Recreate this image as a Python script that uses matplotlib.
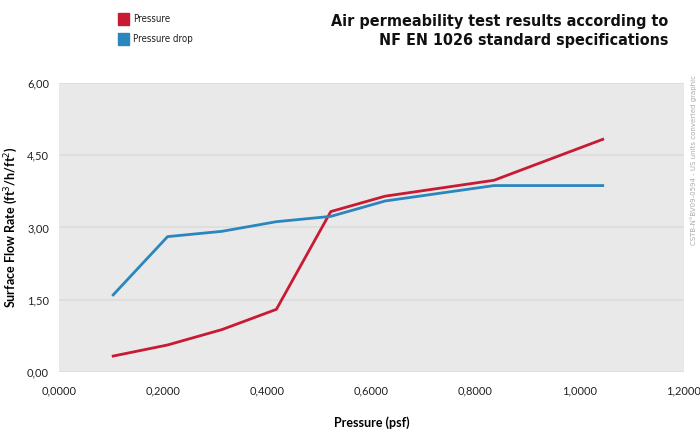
import matplotlib.pyplot as plt
from matplotlib.patches import Rectangle

# pressure in psf (5..50 Pa converted)
pressure = [0.1044, 0.2088, 0.3133, 0.4177, 0.5221, 0.6265, 0.8354, 1.0442]
flow_pressure = [0.33, 0.56, 0.88, 1.30, 3.33, 3.65, 3.98, 4.83]
flow_drop = [1.60, 2.81, 2.92, 3.12, 3.23, 3.55, 3.87, 3.87]

x_ticks = [0.0, 0.2, 0.4, 0.6, 0.8, 1.0, 1.2]
y_ticks = [0.0, 1.5, 3.0, 4.5, 6.0]

red = '#c81a32'
blue = '#2b86bd'
label_font = ['Lato', 'DejaVu Sans']
title_font = ['DejaVu Sans']

fig = plt.figure(figsize=(7, 4.3), dpi=100)
ax = fig.add_axes([0.084, 0.135, 0.893, 0.672])
ax.set_facecolor('#e9e9e9')

ax.plot(pressure, flow_pressure, color=red, lw=2.0, zorder=3)
ax.plot(pressure, flow_drop, color=blue, lw=2.0, zorder=3)

ax.set_xlim(0, 1.2)
ax.set_ylim(0, 6)
ax.set_xticks(x_ticks)
ax.set_yticks(y_ticks)
ax.set_xticklabels([f'{v:.4f}'.replace('.', ',') for v in x_ticks],
                   family=label_font, fontsize=8, color='#222222')
ax.set_yticklabels([f'{v:.2f}'.replace('.', ',') for v in y_ticks],
                   family=label_font, fontsize=8, color='#222222')
ax.tick_params(axis='x', length=0, pad=10)
ax.tick_params(axis='y', length=0, pad=7)
ax.grid(axis='y', color='#dcdcdc', lw=1.2)
ax.set_axisbelow(True)
for s in ax.spines.values():
    s.set_visible(False)

ax.set_xlabel('Pressure (psf)', family=label_font, fontsize=9,
              fontweight='bold', labelpad=14)
ax.set_ylabel('Surface Flow Rate (ft$^3$/h/ft$^2$)', family=label_font,
              fontsize=9, fontweight='bold', labelpad=5)

# legend squares
fig.patches.append(Rectangle((118 / 700, 1 - 25 / 430), 11 / 700, 12 / 430,
                             transform=fig.transFigure, color=red))
fig.patches.append(Rectangle((118 / 700, 1 - 45 / 430), 11 / 700, 12 / 430,
                             transform=fig.transFigure, color=blue))
fig.text(133 / 700, 1 - 19 / 430, 'Pressure', family=title_font,
         fontstretch='condensed', fontsize=7, va='center', color='#222222')
fig.text(133 / 700, 1 - 39 / 430, 'Pressure drop', family=title_font,
         fontstretch='condensed', fontsize=7, va='center', color='#222222')

fig.text(668 / 700, 1 - 31 / 430,
         'Air permeability test results according to\nNF EN 1026 standard specifications',
         family=title_font, fontstretch='condensed', fontsize=11.5,
         fontweight='bold', ha='right', va='center', linespacing=1.3,
         color='#111111')

fig.text(694 / 700, 1 - 160 / 430,
         'CSTB-N°BV09-0594 - US units converted graphic',
         rotation=90, fontsize=5, color='#aaaaaa', ha='center', va='center')

fig.savefig('out.png', dpi=100)
